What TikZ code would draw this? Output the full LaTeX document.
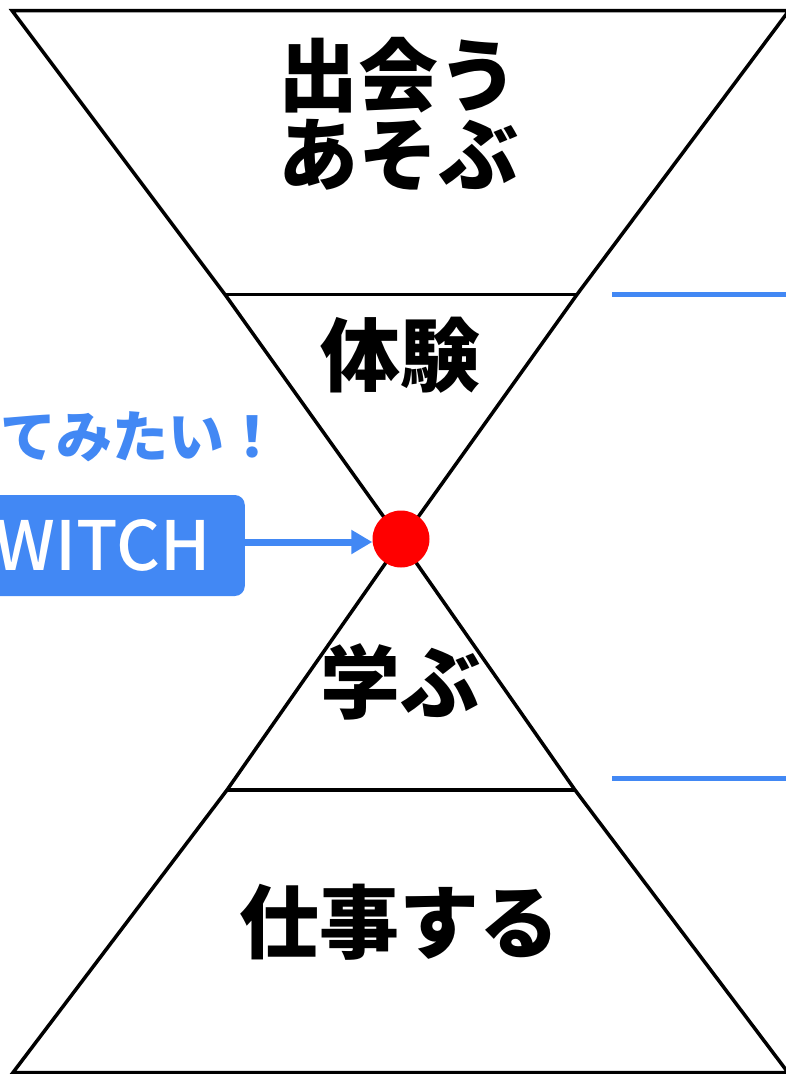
\documentclass[tikz,border=0pt]{standalone}
\usepackage{fontspec}
\newfontfamily\jpfont{Noto Sans CJK JP}
\newfontfamily\jpmedium{Noto Sans CJK JP Medium}
\usetikzlibrary{arrows.meta}

\definecolor{swblue}{RGB}{66,136,244}
\definecolor{dotred}{RGB}{255,0,0}

\tikzset{
  stage/.style={font=\jpfont\bfseries\fontsize{80}{79}\selectfont, align=center, inner sep=0pt},
  callout/.style={font=\jpfont\bfseries\fontsize{56}{60}\selectfont, text=swblue, inner sep=0pt},
  swbox/.style={fill=swblue, rounded corners=10pt, minimum width=284pt, minimum height=101pt,
    inner sep=0pt, text=white, font=\jpmedium\fontsize{68}{72}\selectfont},
  switchdot/.style={circle, fill=dotred, minimum size=57pt, inner sep=0pt},
  guide/.style={swblue, line width=4.3pt},
}

\begin{document}
\begin{tikzpicture}[x=1pt,y=-1pt]
  \useasboundingbox (0,0) rectangle (785,1074);

  % Corners of the hourglass
  \coordinate (tl) at (12,10.5);
  \coordinate (tr) at (789,10.5);
  \coordinate (ul) at (225,294.5);
  \coordinate (ur) at (577,294.5);
  \coordinate (mid) at (401,541);
  \coordinate (ll) at (227,790);
  \coordinate (lr) at (575,790);
  \coordinate (bl) at (13,1072.5);
  \coordinate (br) at (788,1072.5);

  % Outline and the two cross lines
  \draw[line width=3.5pt, line join=miter] (tl) -- (tr) -- (ur) -- (mid) -- (ll) -- (bl)
    -- (br) -- (lr) -- (mid) -- (ul) -- cycle;
  \draw[line width=3.5pt] (ul) -- (ur);
  \draw[line width=3.5pt] (ll) -- (lr);

  % Stage labels
  \node[stage] (meet) at (398,114) {出会う\\あそぶ};
  \node[stage] (taiken) at (400,355) {体験};
  \node[stage] (manabu) at (400,682) {学ぶ};
  \node[stage] (shigoto) at (399,922) {仕事する};

  % Blue guide lines on the right
  \draw[guide] (612,294.5) -- (790,294.5);
  \draw[guide] (612,778.5) -- (790,778.5);

  % Switch point
  \node[switchdot] (dot) at (401,539) {};
  \node[callout, anchor=west] (want) at (0,437) {てみたい！};
  \node[swbox, anchor=east] (sw) at (245,545.5) {WITCH};
  \draw[swblue, line width=7pt, -{Triangle[length=21pt,width=23pt]}]
    (sw.east |- 0,542) -- (dot.west |- 0,542);
\end{tikzpicture}
\end{document}
